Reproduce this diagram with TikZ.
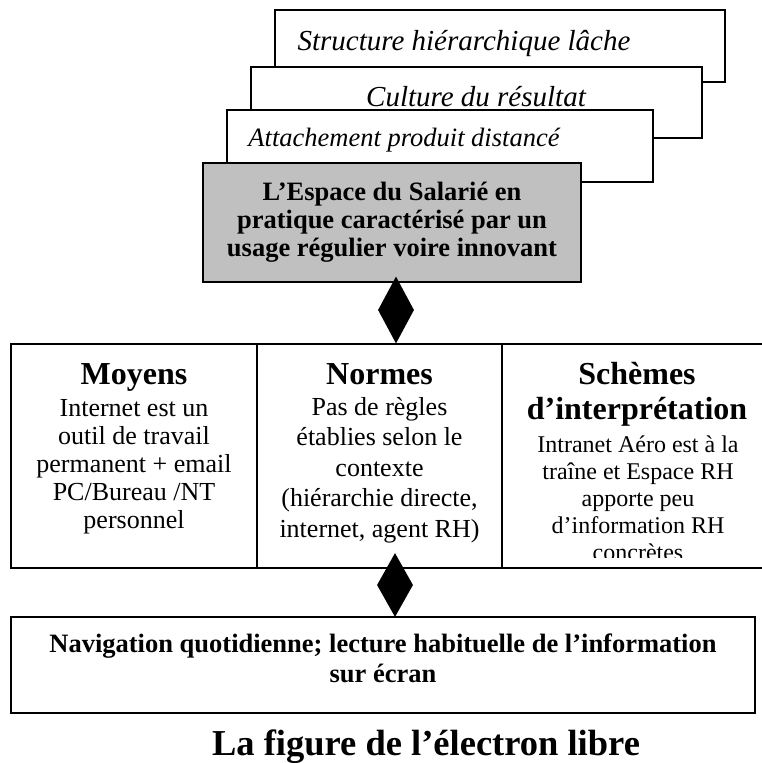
\documentclass[tikz,border=0pt]{standalone}
\usepackage{fontspec}
\setmainfont{Liberation Serif}
\usetikzlibrary{shapes.geometric}
\definecolor{boxgray}{HTML}{C0C0C0}
\begin{document}
\begin{tikzpicture}[x=1pt,y=-1pt,
  frame/.style={draw=black,line width=1.6pt,fill=white,rectangle,inner sep=0pt},
  graybox/.style={frame,fill=boxgray},
  diam/.style={diamond,fill=black,draw=none,inner sep=0pt,minimum width=36pt},
  lbl/.style={inner sep=0pt,anchor=base,align=center},
  itx/.style={lbl,font=\itshape\fontsize{29}{33}\selectfont},
  head/.style={lbl,font=\bfseries\fontsize{32}{35}\selectfont},
  body/.style={lbl,font=\fontsize{26}{28}\selectfont},
  bbody/.style={lbl,font=\bfseries\fontsize{26.5}{28}\selectfont}]
\useasboundingbox (0,0) rectangle (761,763);

% stacked frames
\node[frame,minimum width=450,minimum height=72] (b1) at (500,46) {};
\node[itx] (t1) at (464,50) {Structure hiérarchique lâche};
\node[frame,minimum width=451,minimum height=71] (b2) at (476.5,102.5) {};
\node[itx] (t2) at (476,106) {Culture du résultat};
\node[frame,minimum width=426,minimum height=72] (b3) at (440,146) {};
\node[itx,font=\itshape\fontsize{26.5}{30}\selectfont] (t3) at (404,146.5) {Attachement produit distancé};
\node[graybox,minimum width=378,minimum height=119] (g) at (392,222.5) {};
% multi-line labels: anchor=base is the baseline of the last line
\node[bbody] (tg) at (392,256) {L’Espace du Salarié en\\pratique caractérisé par un\\usage régulier voire innovant};

% middle row
\node[frame,minimum width=246,minimum height=224] (m1) at (134,456) {};
\node[frame,minimum width=245,minimum height=224] (m2) at (379.5,456) {};
\node[frame,minimum width=270,minimum height=224] (m3) at (637,456) {};

\node[head] (h1) at (134,384) {Moyens};
\node[body] (x1) at (134,528) {Internet est un\\outil de travail\\permanent + email\\PC/Bureau /NT\\personnel};
\node[head] (h2) at (379.5,384) {Normes};
\node[body,font=\fontsize{26}{30.5}\selectfont] (x2) at (379.5,537) {Pas de règles\\établies selon le\\contexte\\(hiérarchie directe,\\internet, agent RH)};
\node[head] (h3) at (637,419) {Schèmes\\d’interprétation};
\begin{scope}
  \clip (503,345) rectangle (770,557);
  \node[body,font=\fontsize{24}{27}\selectfont] (x3) at (638,560) {Intranet Aéro est à la\\traîne et Espace RH\\apporte peu\\d’information RH\\concrètes};
\end{scope}

% bottom box
\node[frame,minimum width=744,minimum height=96] (nb) at (383,665) {};
\node[bbody,font=\bfseries\fontsize{26.5}{30}\selectfont] (tb) at (383,682) {Navigation quotidienne; lecture habituelle de l’information\\sur écran};

% diamond connectors
\node[diam,minimum height=67pt] (d1) at (396,310) {};
\node[diam,minimum height=64pt] (d2) at (395,585) {};

% title
\node[lbl,font=\bfseries\fontsize{36.5}{40}\selectfont] (title) at (426,755) {La figure de l’électron libre};
\end{tikzpicture}
\end{document}
